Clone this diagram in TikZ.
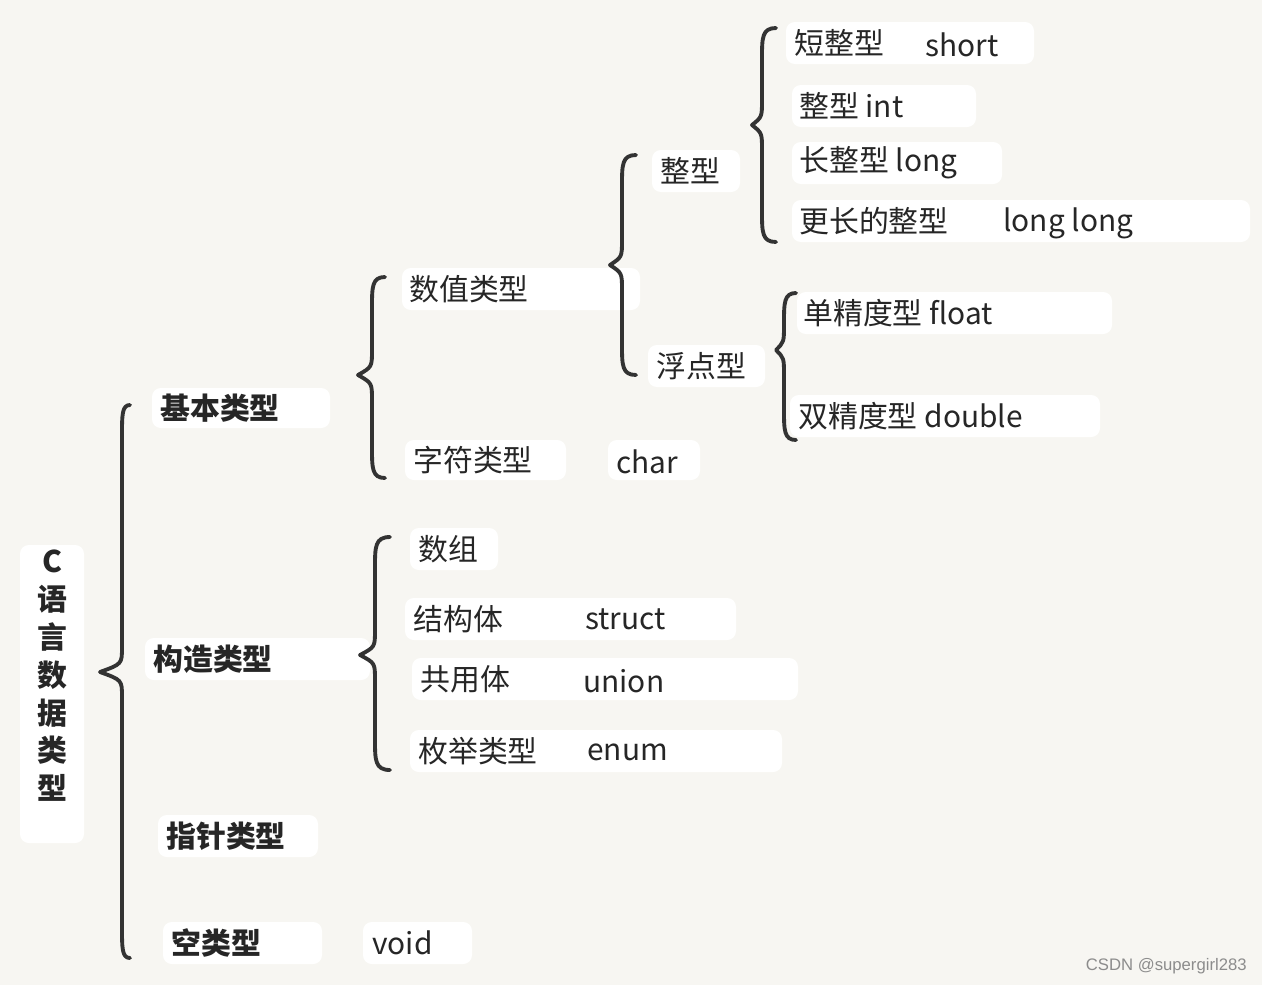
\documentclass[tikz,border=0pt]{standalone}
\usepackage{fontspec}
\setmainfont{Noto Sans CJK SC}
\newfontfamily\wm{Liberation Sans}
\begin{document}
\begin{tikzpicture}[x=0.02cm,y=-0.02cm,
  bx/.style={fill=white,rounded corners=5pt,inner sep=0pt},
  tx/.style={anchor=west,inner sep=0pt,font=\fontsize{17}{20}\selectfont,text=black!85},
  bt/.style={tx,font=\fontsize{17}{20}\selectfont\bfseries},
  br/.style={draw=black!80,line width=2.2pt,line cap=round,line join=round}]
\fill[fill={rgb,255:red,247;green,246;blue,242}] (0,0) rectangle (1262,985);
\useasboundingbox (0,0) rectangle (1262,985);
\newcommand\bxx[5]{\node[bx,minimum width={(#4-#2)*0.02cm},minimum height={(#5-#3)*0.02cm}] (#1) at ({(#2+#4)/2},{(#3+#5)/2}) {};}
\newcommand\brc[6]{\draw[br] (#3,#4) .. controls (#2,#4) and (#2,#4+10) .. (#2,#4+30) -- (#2,#5-25) .. controls (#2,#5-8) .. (#1,#5) .. controls (#2,#5+8) .. (#2,#5+25) -- (#2,#6-30) .. controls (#2,#6-10) and (#2,#6) .. (#3,#6);}
% boxes
\bxx{c}{20}{545}{84}{843}
\node[bt,anchor=north,align=center,font=\fontsize{17}{21.5}\selectfont\bfseries] (ct) at (c.north) [yshift=-3pt] {C\\语\\言\\数\\据\\类\\型};
\bxx{jb}{152}{388}{330}{428}\node[bt] at (160,408) {基本类型};
\bxx{gz}{145}{638}{370}{680}\node[bt] at (153,659) {构造类型};
\bxx{zz}{158}{815}{318}{857}\node[bt] at (166,836) {指针类型};
\bxx{k}{163}{922}{322}{964}\node[bt] at (171,943) {空类型};
\bxx{v}{363}{922}{472}{964}\node[tx] at (372,943) {void};
\bxx{sz}{402}{268}{640}{310}\node[tx] at (409,289) {数值类型};
\bxx{zf}{405}{440}{566}{480}\node[tx] at (413,460) {字符类型};
\bxx{ch}{608}{440}{700}{480}\node[tx] at (616,462) {char};
\bxx{shz}{410}{528}{498}{570}\node[tx] at (418,549) {数组};
\bxx{jg}{405}{598}{736}{640}\node[tx] at (413,619) {结构体};\node[tx] at (585,619) {struct};
\bxx{gy}{412}{658}{798}{700}\node[tx] at (420,679) {共用体};\node[tx] at (583,681) {union};
\bxx{mj}{410}{730}{782}{772}\node[tx] at (418,751) {枚举类型};\node[tx] at (587,752) {enum};
\bxx{zx}{652}{150}{740}{192}\node[tx] at (660,171) {整型};
\bxx{fd}{648}{345}{765}{387}\node[tx] at (656,366) {浮点型};
\bxx{s1}{786}{22}{1034}{64}\node[tx] at (794,43) {短整型};\node[tx] at (925,45) {short};
\bxx{s2}{792}{85}{976}{127}\node[tx] at (799,106) {整型 int};
\bxx{s3}{792}{142}{1002}{184}\node[tx] at (799,163) {长整型 long};
\bxx{s4}{792}{200}{1250}{242}\node[tx] at (799,221) {更长的整型};\node[tx] at (1003,223) {long long};
\bxx{f1}{797}{292}{1112}{334}\node[tx] at (803,313) {单精度型 float};
\bxx{f2}{790}{395}{1100}{437}\node[tx] at (798,416) {双精度型 double};
% braces
\brc{100}{122}{130}{405}{672}{958}
\brc{358}{372}{385}{277}{375}{478}
\brc{360}{375}{390}{537}{655}{770}
\brc{610}{622}{636}{155}{265}{375}
\brc{752}{762}{776}{28}{125}{242}
\brc{776}{784}{796}{293}{350}{440}
\node[anchor=east,inner sep=0pt,text=black!45,font=\wm\fontsize{9.5}{11}\selectfont] (w) at (1247,966) {CSDN @supergirl283};
\end{tikzpicture}
\end{document}
